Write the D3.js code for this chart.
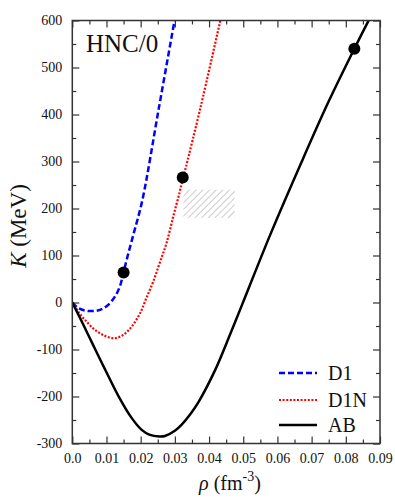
<!DOCTYPE html>
<html>
<head>
<meta charset="utf-8">
<script src="https://cdn.jsdelivr.net/npm/d3@7"></script>
<style>
  body { margin: 0; background: #fff; }
  text { fill: #111; }
</style>
</head>
<body>
<svg width="395" height="502"></svg>
<script>
// curve data: [rho (fm^-3), K (MeV)]
const d1 = [[0,0],[0.0018,-12],[0.0037,-17],[0.0066,-18],[0.0086,-14],[0.0105,-5],[0.0125,13],
  [0.0139,34],[0.0150,64],[0.0159,91],[0.018,148],[0.0205,218],[0.0252,409],[0.0299,600]];
const d1n = [[0,0],[0.002,-22],[0.0037,-37],[0.0066,-58],[0.0096,-71],[0.0123,-76],[0.0149,-69],
  [0.0174,-51],[0.0198,-23],[0.0217,10],[0.0237,45],[0.0256,85],[0.0275,125],[0.0295,182],
  [0.0313,232],[0.0323,262],[0.0333,290],[0.0375,415],[0.0433,600]];
const ab = [[0,0],[0.002,-29],[0.004,-59],[0.006,-89],[0.008,-119],[0.0105,-156],[0.0135,-199],
  [0.0174,-246],[0.0203,-271],[0.0225,-281],[0.0255,-285],[0.0271,-284],[0.030,-273],[0.032,-260],
  [0.0345,-238],[0.0369,-212],[0.0417,-145],[0.0462,-67],[0.0497,-4],[0.058,146],[0.067,298],
  [0.075,428],[0.0825,540],[0.0868,602]];

// saturation points (filled circles)
const dots = [[0.0150,64],[0.0323,266],[0.0825,540]];

// empirical box (hatched)
const boxRho = [0.0325, 0.0475];
const boxK = [180, 240];

const series = [
  { name: "D1", data: d1, color: "#0000ff", dash: "6,3", width: 2.5 },
  { name: "D1N", data: d1n, color: "#ff0000", dash: "2,1.6", width: 2.2 },
  { name: "AB", data: ab, color: "#000000", dash: null, width: 2.5 }
];

const xTicks = d3.range(0, 0.0901, 0.01);
const yTicks = d3.range(-300, 601, 100);

const FONT = "Liberation Serif";

var svg = d3.select("svg");
var x = d3.scaleLinear().domain([0, 0.09]).range([72.3, 380]);
var y = d3.scaleLinear().domain([-300, 600]).range([443.5, 20.5]);

// hatch pattern and clip
var defs = svg.append("defs");
defs.append("clipPath").attr("id", "plot")
  .append("rect").attr("x", x(0)).attr("y", y(600))
  .attr("width", x(0.09) - x(0)).attr("height", y(-300) - y(600));
var pat = defs.append("pattern")
  .attr("id", "hatch")
  .attr("patternUnits", "userSpaceOnUse")
  .attr("width", 4.7).attr("height", 4.7)
  .attr("patternTransform", "rotate(45)");
pat.append("line")
  .attr("x1", 0).attr("y1", 0).attr("x2", 0).attr("y2", 4.7)
  .attr("stroke", "#9a9a9a").attr("stroke-width", 1);

svg.append("rect")
  .attr("x", x(boxRho[0])).attr("y", y(boxK[1]))
  .attr("width", x(boxRho[1]) - x(boxRho[0]))
  .attr("height", y(boxK[0]) - y(boxK[1]))
  .attr("fill", "url(#hatch)");

// axes, ticks point inward on all four sides
var minorX = d3.range(0.005, 0.09, 0.01);
var minorY = d3.range(-250, 600, 100);

svg.append("g").attr("transform", `translate(0,${y(-300)})`)
  .call(d3.axisBottom(x).tickValues(xTicks).tickSize(-7).tickPadding(10)
    .tickFormat(d => d === 0 ? "0.0" : d3.format(".2~f")(d)));
svg.append("g").attr("transform", `translate(0,${y(-300)})`)
  .call(d3.axisBottom(x).tickValues(minorX).tickSize(-4).tickFormat(""));
svg.append("g").attr("transform", `translate(0,${y(600)})`)
  .call(d3.axisTop(x).tickValues(xTicks).tickSize(-7).tickFormat(""));
svg.append("g").attr("transform", `translate(0,${y(600)})`)
  .call(d3.axisTop(x).tickValues(minorX).tickSize(-4).tickFormat(""));

svg.append("g").attr("transform", `translate(${x(0)},0)`)
  .call(d3.axisLeft(y).tickValues(yTicks).tickSize(-7).tickPadding(10)
    .tickFormat(d => String(d)));
svg.append("g").attr("transform", `translate(${x(0)},0)`)
  .call(d3.axisLeft(y).tickValues(minorY).tickSize(-4).tickFormat(""));
svg.append("g").attr("transform", `translate(${x(0.09)},0)`)
  .call(d3.axisRight(y).tickValues(yTicks).tickSize(-7).tickFormat(""));
svg.append("g").attr("transform", `translate(${x(0.09)},0)`)
  .call(d3.axisRight(y).tickValues(minorY).tickSize(-4).tickFormat(""));

svg.selectAll(".domain").remove();
svg.selectAll(".tick line").attr("stroke", "#333").attr("stroke-width", 1.2);
svg.selectAll(".tick text").attr("font-size", 14).attr("fill", "#111");

// curves
var line = d3.line()
  .x(d => x(d[0]))
  .y(d => y(d[1]))
  .curve(d3.curveCatmullRom.alpha(0.5));

var plot = svg.append("g").attr("clip-path", "url(#plot)");
plot.selectAll("path.curve")
  .data(series)
  .enter()
  .append("path")
  .attr("class", "curve")
  .attr("fill", "none")
  .attr("stroke", d => d.color)
  .attr("stroke-width", d => d.width)
  .attr("stroke-dasharray", d => d.dash)
  .attr("d", d => line(d.data));

plot.selectAll("circle")
  .data(dots)
  .enter()
  .append("circle")
  .attr("cx", d => x(d[0]))
  .attr("cy", d => y(d[1]))
  .attr("r", 6)
  .attr("fill", "#000");

// frame
svg.append("rect")
  .attr("x", x(0)).attr("y", y(600))
  .attr("width", x(0.09) - x(0)).attr("height", y(-300) - y(600))
  .attr("fill", "none").attr("stroke", "#333").attr("stroke-width", 1.5);

// legend
var leg = svg.append("g").selectAll("g")
  .data(series)
  .enter()
  .append("g")
  .attr("transform", (d, i) => `translate(279,${[373, 400, 425][i]})`);
leg.append("line")
  .attr("x1", 0).attr("x2", 38)
  .attr("stroke", d => d.color)
  .attr("stroke-width", d => d.width)
  .attr("stroke-dasharray", d => d.dash);
leg.append("text")
  .attr("x", 49).attr("dy", "0.35em")
  .attr("font-size", 20)
  .text(d => d.name);

// labels
svg.append("text")
  .attr("x", 86).attr("y", 52)
  .attr("font-size", 25)
  .text("HNC/0");

var yl = svg.append("text")
  .attr("transform", "translate(26,226) rotate(-90)")
  .attr("text-anchor", "middle")
  .attr("font-size", 23);
yl.append("tspan").attr("font-style", "italic").text("K");
yl.append("tspan").text(" (MeV)");

var xl = svg.append("text")
  .attr("x", 230).attr("y", 490)
  .attr("text-anchor", "middle")
  .attr("font-size", 20);
xl.append("tspan").attr("font-style", "italic").text("ρ");
xl.append("tspan").text(" (fm");
xl.append("tspan").attr("font-size", 14).attr("dy", -9).text("-3");
xl.append("tspan").attr("dy", 9).text(")");

// serif everywhere, set inline so the axis defaults cannot win
svg.selectAll("text").style("font-family", FONT);
</script>
</body>
</html>
